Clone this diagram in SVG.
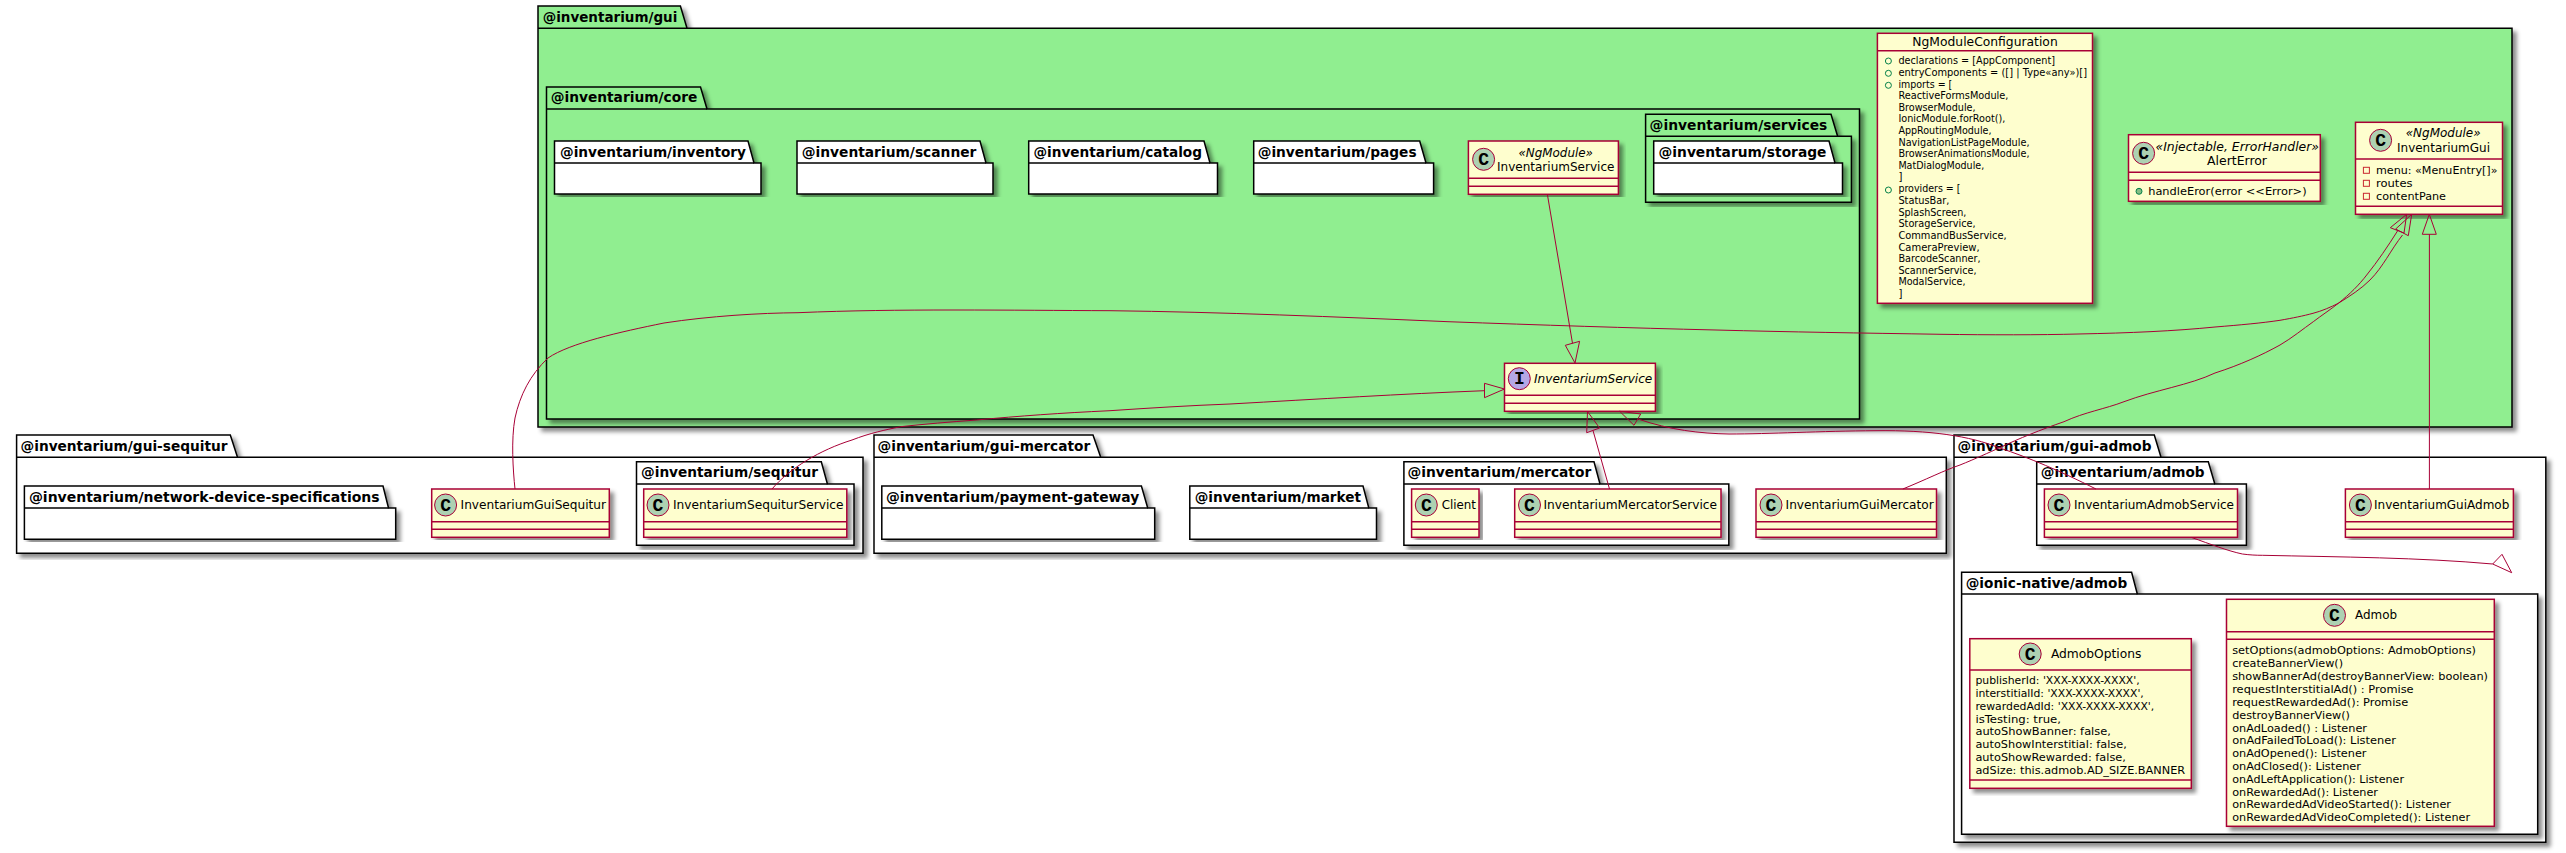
<svg xmlns="http://www.w3.org/2000/svg" width="2566" height="853" viewBox="0 0 2566 853">
<defs>
<filter id="sh" x="-5%" y="-5%" width="110%" height="110%"><feDropShadow dx="4" dy="4" stdDeviation="2.2" flood-color="#000" flood-opacity="0.45"/></filter>
</defs>
<style>
text{font-family:"DejaVu Sans","Liberation Sans",sans-serif;fill:#000;}
.pk{fill:#fff;stroke:#000;stroke-width:1.5;filter:url(#sh);}
.pg{fill:#90EE90;stroke:#000;stroke-width:1.5;filter:url(#sh);}
.pl{fill:none;stroke:#000;stroke-width:1.5;}
.pt{font-weight:bold;font-size:13.5px;}
.cb{fill:#FEFECE;stroke:#A80036;stroke-width:1.5;filter:url(#sh);}
.cl{stroke:#A80036;stroke-width:1.5;}
.ci{fill:#ADD1B2;stroke:#A80036;stroke-width:1;}
.ii{fill:#B4A7E5;stroke:#A80036;stroke-width:1;}
.ltr{font-family:"Liberation Mono","DejaVu Sans Mono",monospace;font-weight:bold;font-size:18px;text-anchor:middle;}
.t{font-size:12px;}
.tb{font-size:12.6px;}
.it{font-size:12px;font-style:italic;}
.m{font-size:11px;}
.n{font-size:10px;}
.pri{fill:none;stroke:#C82930;stroke-width:1;}
.pub{fill:#84BE84;stroke:#038048;stroke-width:1;}
.pubo{fill:none;stroke:#038048;stroke-width:1;}
.e{fill:none;stroke:#A80036;stroke-width:1;}
</style>
<g id="pkg-gui"><path class="pg" d="M538,28.3 L538,6 L680.4,6 L687,28.3 L2512,28.3 L2512,427 L538,427 Z"/><path class="pl" d="M538,28.3 L687,28.3"/><text class="pt" x="542.7" y="22" textLength="134.6" lengthAdjust="spacingAndGlyphs">@inventarium/gui</text></g>
<g id="pkg-core"><path class="pg" d="M546.5,109 L546.5,87 L700.5,87 L707,109 L1859.5,109 L1859.5,419 L546.5,419 Z"/><path class="pl" d="M546.5,109 L707,109"/><text class="pt" x="550.7" y="102.3" textLength="146.6" lengthAdjust="spacingAndGlyphs">@inventarium/core</text></g>
<g id="pkg-inventory"><path class="pk" d="M554.5,163 L554.5,141 L748,141 L754,163 L761,163 L761,194 L554.5,194 Z"/><path class="pl" d="M554.5,163 L754,163"/><text class="pt" x="560" y="156.7" textLength="186" lengthAdjust="spacingAndGlyphs">@inventarium/inventory</text></g>
<g id="pkg-scanner"><path class="pk" d="M797,163 L797,141 L980,141 L986,163 L993,163 L993,194 L797,194 Z"/><path class="pl" d="M797,163 L986,163"/><text class="pt" x="801.7" y="156.7" textLength="174.7" lengthAdjust="spacingAndGlyphs">@inventarium/scanner</text></g>
<g id="pkg-catalog"><path class="pk" d="M1028.7,163 L1028.7,141 L1204,141 L1210,163 L1217.5,163 L1217.5,194 L1028.7,194 Z"/><path class="pl" d="M1028.7,163 L1210,163"/><text class="pt" x="1033.4" y="156.7" textLength="168.6" lengthAdjust="spacingAndGlyphs">@inventarium/catalog</text></g>
<g id="pkg-pages"><path class="pk" d="M1253.7,163 L1253.7,141 L1419.7,141 L1426,163 L1433.6,163 L1433.6,194 L1253.7,194 Z"/><path class="pl" d="M1253.7,163 L1426,163"/><text class="pt" x="1257.7" y="156.7" textLength="158.9" lengthAdjust="spacingAndGlyphs">@inventarium/pages</text></g>
<g id="pkg-services"><path class="pk" style="fill:#90EE90" d="M1645.6,136.3 L1645.6,114.3 L1831,114.3 L1837.6,136.3 L1851.4,136.3 L1851.4,202.3 L1645.6,202.3 Z"/><path class="pl" d="M1645.6,136.3 L1837.6,136.3"/><text class="pt" x="1649.6" y="130" textLength="177.7" lengthAdjust="spacingAndGlyphs">@inventarium/services</text></g>
<g id="pkg-storage"><path class="pk" d="M1653.7,163 L1653.7,141 L1829,141 L1835,163 L1842.5,163 L1842.5,194 L1653.7,194 Z"/><path class="pl" d="M1653.7,163 L1835,163"/><text class="pt" x="1658.6" y="156.7" textLength="167.8" lengthAdjust="spacingAndGlyphs">@inventarum/storage</text></g>
<g id="pkg-gui-sequitur"><path class="pk" d="M16.6,457.3 L16.6,435 L230.3,435 L237.5,457.3 L863,457.3 L863,553.3 L16.6,553.3 Z"/><path class="pl" d="M16.6,457.3 L237.5,457.3"/><text class="pt" x="20.5" y="450.7" textLength="207" lengthAdjust="spacingAndGlyphs">@inventarium/gui-sequitur</text></g>
<g id="pkg-network"><path class="pk" d="M24.4,508 L24.4,486 L383,486 L388.5,508 L395.7,508 L395.7,539.3 L24.4,539.3 Z"/><path class="pl" d="M24.4,508 L388.5,508"/><text class="pt" x="28.9" y="501.7" textLength="350.7" lengthAdjust="spacingAndGlyphs">@inventarium/network-device-specifications</text></g>
<g id="pkg-sequitur"><path class="pk" d="M636.5,484 L636.5,461.7 L821.3,461.7 L827.4,484 L854,484 L854,545.3 L636.5,545.3 Z"/><path class="pl" d="M636.5,484 L827.4,484"/><text class="pt" x="641" y="477.4" textLength="177" lengthAdjust="spacingAndGlyphs">@inventarium/sequitur</text></g>
<g id="pkg-gui-mercator"><path class="pk" d="M874,457.3 L874,435 L1093,435 L1100.7,457.3 L1946.3,457.3 L1946.3,553.3 L874,553.3 Z"/><path class="pl" d="M874,457.3 L1100.7,457.3"/><text class="pt" x="877.5" y="450.7" textLength="212.7" lengthAdjust="spacingAndGlyphs">@inventarium/gui-mercator</text></g>
<g id="pkg-payment"><path class="pk" d="M881.8,508 L881.8,486 L1141.4,486 L1147.7,508 L1154.7,508 L1154.7,539.3 L881.8,539.3 Z"/><path class="pl" d="M881.8,508 L1147.7,508"/><text class="pt" x="886" y="501.7" textLength="253.3" lengthAdjust="spacingAndGlyphs">@inventarium/payment-gateway</text></g>
<g id="pkg-market"><path class="pk" d="M1189.8,508 L1189.8,486 L1363,486 L1368.8,508 L1376.5,508 L1376.5,539.3 L1189.8,539.3 Z"/><path class="pl" d="M1189.8,508 L1368.8,508"/><text class="pt" x="1194.7" y="501.7" textLength="166.3" lengthAdjust="spacingAndGlyphs">@inventarium/market</text></g>
<g id="pkg-mercator"><path class="pk" d="M1403.9,484 L1403.9,461.7 L1594,461.7 L1600,484 L1728.8,484 L1728.8,545.3 L1403.9,545.3 Z"/><path class="pl" d="M1403.9,484 L1600,484"/><text class="pt" x="1407.4" y="477.4" textLength="183.8" lengthAdjust="spacingAndGlyphs">@inventarium/mercator</text></g>
<g id="pkg-gui-admob"><path class="pk" d="M1954,457.3 L1954,435 L2154.3,435 L2161,457.3 L2545.8,457.3 L2545.8,842.3 L1954,842.3 Z"/><path class="pl" d="M1954,457.3 L2161,457.3"/><text class="pt" x="1957.6" y="450.7" textLength="193.9" lengthAdjust="spacingAndGlyphs">@inventarium/gui-admob</text></g>
<g id="pkg-admob"><path class="pk" d="M2036.7,484 L2036.7,461.7 L2208.3,461.7 L2214.8,484 L2246.4,484 L2246.4,545.3 L2036.7,545.3 Z"/><path class="pl" d="M2036.7,484 L2214.8,484"/><text class="pt" x="2040.8" y="477.4" textLength="163.8" lengthAdjust="spacingAndGlyphs">@inventarium/admob</text></g>
<g id="pkg-ionic-admob"><path class="pk" d="M1961.6,594 L1961.6,572.3 L2131.6,572.3 L2137.3,594 L2537.7,594 L2537.7,834.3 L1961.6,834.3 Z"/><path class="pl" d="M1961.6,594 L2137.3,594"/><text class="pt" x="1965.7" y="588" textLength="161.5" lengthAdjust="spacingAndGlyphs">@ionic-native/admob</text></g>

<g id="cls-NgModuleConfiguration"><rect class="cb" x="1877.4" y="33.3" width="215.1" height="270"/><line class="cl" x1="1877.4" y1="50.7" x2="2092.5" y2="50.7"/>
<text class="tb" x="1912.3" y="45.7" textLength="145.4" lengthAdjust="spacingAndGlyphs">NgModuleConfiguration</text>
<circle class="pubo" cx="1888.4" cy="61" r="3"/><circle class="pubo" cx="1888.4" cy="73.3" r="3"/><circle class="pubo" cx="1888.4" cy="85.3" r="3"/><circle class="pubo" cx="1888.4" cy="190" r="3"/>
<text class="n" x="1898.4" y="64" textLength="156.6" lengthAdjust="spacingAndGlyphs">declarations = [AppComponent]</text>
<text class="n" x="1898.4" y="76" textLength="188.6" lengthAdjust="spacingAndGlyphs">entryComponents = ([] | Type«any»)[]</text>
<text class="n" x="1898.4" y="88" textLength="53.9" lengthAdjust="spacingAndGlyphs">imports = [</text>
<text class="n" x="1898.4" y="99" textLength="110" lengthAdjust="spacingAndGlyphs">ReactiveFormsModule,</text>
<text class="n" x="1898.4" y="110.7" textLength="77.2" lengthAdjust="spacingAndGlyphs">BrowserModule,</text>
<text class="n" x="1898.4" y="121.7" textLength="106.9" lengthAdjust="spacingAndGlyphs">IonicModule.forRoot(),</text>
<text class="n" x="1898.4" y="134" textLength="93.1" lengthAdjust="spacingAndGlyphs">AppRoutingModule,</text>
<text class="n" x="1898.4" y="145.7" textLength="131.1" lengthAdjust="spacingAndGlyphs">NavigationListPageModule,</text>
<text class="n" x="1898.4" y="156.7" textLength="131.1" lengthAdjust="spacingAndGlyphs">BrowserAnimationsModule,</text>
<text class="n" x="1898.4" y="168.7" textLength="85.8" lengthAdjust="spacingAndGlyphs">MatDialogModule,</text>
<text class="n" x="1898.4" y="180">]</text>
<text class="n" x="1898.4" y="192" textLength="62.1" lengthAdjust="spacingAndGlyphs">providers = [</text>
<text class="n" x="1898.4" y="203.7" textLength="51.1" lengthAdjust="spacingAndGlyphs">StatusBar,</text>
<text class="n" x="1898.4" y="215.7" textLength="68" lengthAdjust="spacingAndGlyphs">SplashScreen,</text>
<text class="n" x="1898.4" y="226.7" textLength="77.2" lengthAdjust="spacingAndGlyphs">StorageService,</text>
<text class="n" x="1898.4" y="238.7" textLength="108.2" lengthAdjust="spacingAndGlyphs">CommandBusService,</text>
<text class="n" x="1898.4" y="250.7" textLength="81.3" lengthAdjust="spacingAndGlyphs">CameraPreview,</text>
<text class="n" x="1898.4" y="261.7" textLength="82.2" lengthAdjust="spacingAndGlyphs">BarcodeScanner,</text>
<text class="n" x="1898.4" y="273.7" textLength="78.1" lengthAdjust="spacingAndGlyphs">ScannerService,</text>
<text class="n" x="1898.4" y="284.7" textLength="67.1" lengthAdjust="spacingAndGlyphs">ModalService,</text>
<text class="n" x="1898.4" y="296.7">]</text></g>

<g id="cls-AlertError"><rect class="cb" x="2128.5" y="134.7" width="191.8" height="66.6"/><line class="cl" x1="2128.5" y1="172.3" x2="2320.3" y2="172.3"/><line class="cl" x1="2128.5" y1="180.3" x2="2320.3" y2="180.3"/>
<circle class="ci" cx="2143.6" cy="153.3" r="11"/><text class="ltr" x="2143.6" y="158.8">C</text>
<text class="it" x="2155.5" y="150.7" textLength="163.5" lengthAdjust="spacingAndGlyphs">«Injectable, ErrorHandler»</text>
<text class="t" x="2207" y="165" textLength="60" lengthAdjust="spacingAndGlyphs">AlertError</text>
<circle class="pub" cx="2139" cy="191.3" r="3"/><text class="m" x="2148.2" y="195" textLength="158.4" lengthAdjust="spacingAndGlyphs">handleEror(error &lt;&lt;Error&gt;)</text></g>

<g id="cls-InventariumGui"><rect class="cb" x="2355.5" y="122.3" width="147" height="92"/><line class="cl" x1="2355.5" y1="159" x2="2502.5" y2="159"/><line class="cl" x1="2355.5" y1="206.3" x2="2502.5" y2="206.3"/>
<circle class="ci" cx="2380.6" cy="140.3" r="11"/><text class="ltr" x="2380.6" y="145.8">C</text>
<text class="it" x="2405.7" y="137.3" textLength="74.9" lengthAdjust="spacingAndGlyphs">«NgModule»</text>
<text class="t" x="2397" y="152" textLength="93" lengthAdjust="spacingAndGlyphs">InventariumGui</text>
<rect class="pri" x="2363.4" y="167.3" width="6" height="6"/><rect class="pri" x="2363.4" y="180.3" width="6" height="6"/><rect class="pri" x="2363.4" y="193.3" width="6" height="6"/>
<text class="m" x="2376" y="174" textLength="121.5" lengthAdjust="spacingAndGlyphs">menu:  «MenuEntry[]»</text>
<text class="m" x="2376" y="187" textLength="36.5" lengthAdjust="spacingAndGlyphs">routes</text>
<text class="m" x="2376" y="200" textLength="70" lengthAdjust="spacingAndGlyphs">contentPane</text></g>

<g id="cls-InventariumService"><rect class="cb" x="1468.4" y="141" width="150" height="53.3"/><line class="cl" x1="1468.4" y1="178.3" x2="1618.4" y2="178.3"/><line class="cl" x1="1468.4" y1="186.3" x2="1618.4" y2="186.3"/>
<circle class="ci" cx="1483.6" cy="159.3" r="11"/><text class="ltr" x="1483.6" y="164.8">C</text>
<text class="it" x="1518.4" y="156.7" textLength="74.6" lengthAdjust="spacingAndGlyphs">«NgModule»</text>
<text class="t" x="1497" y="170.7" textLength="117.4" lengthAdjust="spacingAndGlyphs">InventariumService</text></g>

<g id="ifc-InventariumService"><rect class="cb" x="1504.5" y="363.3" width="150.9" height="48"/><line class="cl" x1="1504.5" y1="395.3" x2="1655.4" y2="395.3"/><line class="cl" x1="1504.5" y1="403.3" x2="1655.4" y2="403.3"/>
<circle class="ii" cx="1519.3" cy="378.7" r="11"/><text class="ltr" x="1519.3" y="384.2">I</text>
<text class="it" x="1534" y="382.7" textLength="118.3" lengthAdjust="spacingAndGlyphs">InventariumService</text></g>

<g id="cls-InventariumGuiSequitur"><rect class="cb" x="431.7" y="489" width="177.6" height="48.3"/><line class="cl" x1="431.7" y1="521.7" x2="609.3" y2="521.7"/><line class="cl" x1="431.7" y1="529.3" x2="609.3" y2="529.3"/>
<circle class="ci" cx="445.6" cy="505" r="11"/><text class="ltr" x="445.6" y="510.5">C</text>
<text class="t" x="460.6" y="509" textLength="145.4" lengthAdjust="spacingAndGlyphs">InventariumGuiSequitur</text></g>

<g id="cls-InventariumSequiturService"><rect class="cb" x="643.7" y="489" width="203.1" height="48.3"/><line class="cl" x1="643.7" y1="521.7" x2="846.8" y2="521.7"/><line class="cl" x1="643.7" y1="529.3" x2="846.8" y2="529.3"/>
<circle class="ci" cx="658" cy="505" r="11"/><text class="ltr" x="658" y="510.5">C</text>
<text class="t" x="673" y="509" textLength="170.5" lengthAdjust="spacingAndGlyphs">InventariumSequiturService</text></g>

<g id="cls-Client"><rect class="cb" x="1411.6" y="489" width="67.4" height="48.3"/><line class="cl" x1="1411.6" y1="521.7" x2="1479" y2="521.7"/><line class="cl" x1="1411.6" y1="529.3" x2="1479" y2="529.3"/>
<circle class="ci" cx="1426.3" cy="505" r="11"/><text class="ltr" x="1426.3" y="510.5">C</text>
<text class="t" x="1441.7" y="509" textLength="34.3" lengthAdjust="spacingAndGlyphs">Client</text></g>

<g id="cls-InventariumMercatorService"><rect class="cb" x="1514.7" y="489" width="206.3" height="48.3"/><line class="cl" x1="1514.7" y1="521.7" x2="1721" y2="521.7"/><line class="cl" x1="1514.7" y1="529.3" x2="1721" y2="529.3"/>
<circle class="ci" cx="1529.5" cy="505" r="11"/><text class="ltr" x="1529.5" y="510.5">C</text>
<text class="t" x="1543.5" y="509" textLength="173.5" lengthAdjust="spacingAndGlyphs">InventariumMercatorService</text></g>

<g id="cls-InventariumGuiMercator"><rect class="cb" x="1756" y="489" width="180.5" height="48.3"/><line class="cl" x1="1756" y1="521.7" x2="1936.5" y2="521.7"/><line class="cl" x1="1756" y1="529.3" x2="1936.5" y2="529.3"/>
<circle class="ci" cx="1771" cy="505" r="11"/><text class="ltr" x="1771" y="510.5">C</text>
<text class="t" x="1785.6" y="509" textLength="148.1" lengthAdjust="spacingAndGlyphs">InventariumGuiMercator</text></g>

<g id="cls-InventariumAdmobService"><rect class="cb" x="2044.4" y="489" width="193.1" height="48.3"/><line class="cl" x1="2044.4" y1="521.7" x2="2237.5" y2="521.7"/><line class="cl" x1="2044.4" y1="529.3" x2="2237.5" y2="529.3"/>
<circle class="ci" cx="2059" cy="505" r="11"/><text class="ltr" x="2059" y="510.5">C</text>
<text class="t" x="2074" y="509" textLength="160" lengthAdjust="spacingAndGlyphs">InventariumAdmobService</text></g>

<g id="cls-InventariumGuiAdmob"><rect class="cb" x="2345.4" y="489" width="168" height="48.3"/><line class="cl" x1="2345.4" y1="521.7" x2="2513.4" y2="521.7"/><line class="cl" x1="2345.4" y1="529.3" x2="2513.4" y2="529.3"/>
<circle class="ci" cx="2360.4" cy="505" r="11"/><text class="ltr" x="2360.4" y="510.5">C</text>
<text class="t" x="2374" y="509" textLength="135.3" lengthAdjust="spacingAndGlyphs">InventariumGuiAdmob</text></g>

<g id="cls-AdmobOptions"><rect class="cb" x="1969.8" y="638.7" width="221.5" height="149.6"/><line class="cl" x1="1969.8" y1="670" x2="2191.3" y2="670"/><line class="cl" x1="1969.8" y1="780" x2="2191.3" y2="780"/>
<circle class="ci" cx="2030.2" cy="654" r="11"/><text class="ltr" x="2030.2" y="659.5">C</text>
<text class="t" x="2050.9" y="657.7" textLength="90.5" lengthAdjust="spacingAndGlyphs">AdmobOptions</text>
<text class="m" x="1975.4" y="684" textLength="164.3" lengthAdjust="spacingAndGlyphs">publisherId: 'XXX-XXXX-XXXX',</text>
<text class="m" x="1975.4" y="697" textLength="168.4" lengthAdjust="spacingAndGlyphs">interstitialId: 'XXX-XXXX-XXXX',</text>
<text class="m" x="1975.4" y="710" textLength="178.9" lengthAdjust="spacingAndGlyphs">rewardedAdId: 'XXX-XXXX-XXXX',</text>
<text class="m" x="1975.4" y="723" textLength="85.6" lengthAdjust="spacingAndGlyphs">isTesting: true,</text>
<text class="m" x="1975.4" y="735" textLength="135.5" lengthAdjust="spacingAndGlyphs">autoShowBanner: false,</text>
<text class="m" x="1975.4" y="748" textLength="151.4" lengthAdjust="spacingAndGlyphs">autoShowInterstitial: false,</text>
<text class="m" x="1975.4" y="761" textLength="150.5" lengthAdjust="spacingAndGlyphs">autoShowRewarded: false,</text>
<text class="m" x="1975.4" y="774" textLength="209.8" lengthAdjust="spacingAndGlyphs">adSize: this.admob.AD_SIZE.BANNER</text></g>

<g id="cls-Admob"><rect class="cb" x="2226.5" y="599.3" width="267.8" height="227"/><line class="cl" x1="2226.5" y1="631.7" x2="2494.3" y2="631.7"/><line class="cl" x1="2226.5" y1="639.3" x2="2494.3" y2="639.3"/>
<circle class="ci" cx="2334.5" cy="615.3" r="11"/><text class="ltr" x="2334.5" y="620.8">C</text>
<text class="t" x="2355" y="619.3" textLength="42" lengthAdjust="spacingAndGlyphs">Admob</text>
<text class="m" x="2232.2" y="654" textLength="243.8" lengthAdjust="spacingAndGlyphs">setOptions(admobOptions: AdmobOptions)</text>
<text class="m" x="2232.2" y="667" textLength="110.8" lengthAdjust="spacingAndGlyphs">createBannerView()</text>
<text class="m" x="2232.2" y="679.5" textLength="255.8" lengthAdjust="spacingAndGlyphs">showBannerAd(destroyBannerView: boolean)</text>
<text class="m" x="2232.2" y="692.5" textLength="181.4" lengthAdjust="spacingAndGlyphs">requestInterstitialAd() : Promise</text>
<text class="m" x="2232.2" y="705.5" textLength="176.1" lengthAdjust="spacingAndGlyphs">requestRewardedAd(): Promise</text>
<text class="m" x="2232.2" y="718.5" textLength="117.8" lengthAdjust="spacingAndGlyphs">destroyBannerView()</text>
<text class="m" x="2232.2" y="731.5" textLength="134.8" lengthAdjust="spacingAndGlyphs">onAdLoaded() : Listener</text>
<text class="m" x="2232.2" y="743.5" textLength="163.8" lengthAdjust="spacingAndGlyphs">onAdFailedToLoad(): Listener</text>
<text class="m" x="2232.2" y="756.5" textLength="134.3" lengthAdjust="spacingAndGlyphs">onAdOpened(): Listener</text>
<text class="m" x="2232.2" y="769.5" textLength="128.8" lengthAdjust="spacingAndGlyphs">onAdClosed(): Listener</text>
<text class="m" x="2232.2" y="782.5" textLength="171.8" lengthAdjust="spacingAndGlyphs">onAdLeftApplication(): Listener</text>
<text class="m" x="2232.2" y="795.5" textLength="145.8" lengthAdjust="spacingAndGlyphs">onRewardedAd(): Listener</text>
<text class="m" x="2232.2" y="807.5" textLength="218.8" lengthAdjust="spacingAndGlyphs">onRewardedAdVideoStarted(): Listener</text>
<text class="m" x="2232.2" y="820.5" textLength="237.8" lengthAdjust="spacingAndGlyphs">onRewardedAdVideoCompleted(): Listener</text></g>

<g id="connectors">
<path class="e" d="M515,489 C513,470 511,440 515,418 C520,395 530,375 548,358 C570,343 620,332 664,323 C710,316 760,313 798,312.7 C850,310.5 900,310 954,310 C1010,310 1060,310.5 1110,310.7 C1220,312 1340,317 1448,321.7 C1540,325 1630,328 1716,330 C1790,332 1860,333 1941,334.3 C1990,335 2040,335 2078,334 C2130,333 2175,331 2215,327 C2240,325 2262,323 2280,320.3 C2293,318 2303,316 2313,313.3 C2322,311 2331,307 2338.3,303.3 C2350,296 2361,289 2370,280 C2377,273 2382,265.5 2386.7,258.3 C2392,250 2397,242 2402.5,235"/>
<path class="e" d="M2411.7,214.3 L2395.7,229 L2408.3,235.7 Z"/>
<path class="e" d="M1902.8,489 C1925,480 1945,470 1960,465 C1975,459 1990,452 1999,448 C2020,438 2040,430 2064,421.7 C2085,412 2105,409 2124,401.7 C2155,390 2190,385 2215,373 C2240,365 2262,355 2280,345 C2292,338 2303,329 2313.3,321.7 C2322,315 2330,310 2338.3,303.3 C2350,294 2359,285 2366.7,275 C2378,261 2388,246 2397.5,231"/>
<path class="e" d="M2406.7,214.3 L2390.3,227.7 L2404,233 Z"/>
<path class="e" d="M772,489 C790,468 820,450 852,440 C870,433 885,430 900.5,426.7 C925,424 950,422 976.4,420 C1020,416 1060,413 1110,410.7 C1150,408 1190,405.5 1230,404 C1320,399 1400,394 1484.5,390.7"/>
<path class="e" d="M1504.5,389 L1484.5,383.3 L1484.5,397.7 Z"/>
<path class="e" d="M1609.5,489 L1593,430.5"/>
<path class="e" d="M1587.5,411.5 L1586.7,432.7 L1599.6,428 Z"/>
<path class="e" d="M2096,489 C2060,471 2030,458 1999,447.7 C1970,436 1930,430 1876,430.7 C1820,431 1770,434 1729,434 C1700,433.5 1670,430 1638,419"/>
<path class="e" d="M1619.7,411.3 L1640.7,414 L1634,425.3 Z"/>
<path class="e" d="M1547.4,194.5 L1572.5,343.3"/>
<path class="e" d="M1575,363 L1565.3,345.3 L1579.6,341.3 Z"/>
<path class="e" d="M2429.4,489 L2429.4,234.3"/>
<path class="e" d="M2429.3,214.3 L2422.3,234.3 L2436.3,234.3 Z"/>
<path class="e" d="M2191.7,537.5 C2210,544 2228,551 2242.4,554 C2250,555 2256,555.3 2262.7,555.3 C2340,557 2420,557.5 2492.7,564"/>
<path class="e" d="M2511.7,572.7 L2502,554.3 L2492.7,564 Z"/>
</g>
</svg>
